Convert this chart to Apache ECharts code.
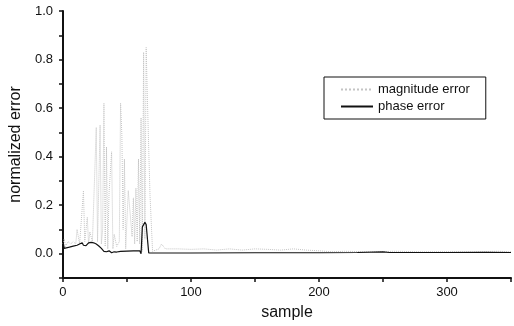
<!DOCTYPE html>
<html>
<head>
<meta charset="utf-8">
<script src="https://cdn.jsdelivr.net/npm/echarts@6/dist/echarts.min.js"></script>
<style>
  html, body { margin: 0; padding: 0; background: #fff; }
  #chart { width: 514px; height: 326px; }
</style>
</head>
<body>
<div id="chart"></div>
<script>
// magnitude error (dotted, light) - sample index and value
const magX = [0, 1, 2, 4, 6, 8, 10, 11, 13, 16, 17, 19, 20, 21, 23, 26, 27, 29, 30, 31, 32, 33, 34, 35, 36, 38, 39, 40, 42, 44, 45, 46, 47, 48, 49, 51, 54, 55, 56, 57, 58, 59, 60, 61, 62, 63, 64, 65, 66, 67, 68, 70, 75, 77, 80, 90, 100, 110, 120, 130, 140, 150, 160, 170, 180, 190, 200, 210, 220, 240, 260, 280, 300, 320, 340, 350];
const magY = [0.04, 0.06, 0.03, 0.05, 0.04, 0.05, 0.04, 0.10, 0.04, 0.26, 0.05, 0.15, 0.04, 0.09, 0.05, 0.52, 0.05, 0.53, 0.04, 0.10, 0.62, 0.03, 0.44, 0.02, 0.25, 0.42, 0.02, 0.08, 0.03, 0.05, 0.62, 0.49, 0.10, 0.39, 0.02, 0.26, 0.07, 0.23, 0.04, 0.27, 0.05, 0.39, 0.04, 0.56, 0.01, 0.83, 0.06, 0.85, 0.63, 0.43, 0.24, 0.01, 0.02, 0.04, 0.02, 0.02, 0.018, 0.02, 0.015, 0.02, 0.015, 0.02, 0.018, 0.015, 0.02, 0.015, 0.012, 0.008, 0.01, 0.008, 0.01, 0.008, 0.009, 0.008, 0.01, 0.008];

// phase error (solid)
const phaseX = [0, 1, 2, 5, 8, 11, 13, 14, 15, 16, 17, 18, 19, 20, 22, 24, 26, 28, 30, 32, 34, 36, 37, 38, 39, 40, 42, 45, 50, 55, 60, 61, 62, 63, 64, 65, 66, 67, 68, 70, 80, 100, 150, 200, 230, 250, 255, 260, 300, 330, 350];
const phaseY = [0.05, 0.022, 0.022, 0.027, 0.031, 0.035, 0.04, 0.036, 0.045, 0.035, 0.042, 0.033, 0.04, 0.045, 0.047, 0.045, 0.04, 0.032, 0.022, 0.01, 0.008, 0.012, 0.02, 0.004, 0.003, 0.008, 0.007, 0.01, 0.011, 0.012, 0.012, 0.0, 0.11, 0.12, 0.13, 0.12, 0.06, 0.003, 0.004, 0.003, 0.003, 0.003, 0.004, 0.004, 0.005, 0.008, 0.005, 0.005, 0.005, 0.006, 0.005];

const xLabels = [0, 100, 200, 300];
const yLabels = [0, 0.2, 0.4, 0.6, 0.8, 1.0];

const zip = (xs, ys) => xs.map((x, i) => [x, ys[i]]);

const chart = echarts.init(document.getElementById("chart"), null, { renderer: "canvas" });

const font = "'Liberation Sans', Arial, sans-serif";

const option = {
  animation: false,
  backgroundColor: "#fff",
  grid: { left: 59, right: 0, top: 11, bottom: 46 },
  legend: {
    orient: "vertical",
    left: 324,
    top: 77,
    padding: [6, 16, 6, 16],
    itemGap: 4,
    itemWidth: 32,
    itemHeight: 12,
    borderColor: "#111",
    borderWidth: 1,
    itemStyle: { color: "transparent", borderWidth: 0 },
    textStyle: { fontFamily: font, fontSize: 13, color: "#111" },
    data: ["magnitude error", "phase error"],
  },
  xAxis: {
    type: "value",
    min: 0,
    max: 350,
    interval: 50,
    name: "sample",
    nameLocation: "middle",
    nameGap: 27,
    nameTextStyle: { fontFamily: font, fontSize: 16, color: "#111" },
    axisLine: { onZero: false, lineStyle: { color: "#111", width: 2 } },
    axisTick: { length: 4, lineStyle: { color: "#111", width: 1.5 } },
    axisLabel: {
      fontFamily: font,
      fontSize: 13,
      color: "#111",
      margin: 8,
      formatter: (v) => (xLabels.includes(v) ? String(v) : ""),
    },
    splitLine: { show: false },
  },
  yAxis: {
    type: "value",
    min: -0.1,
    max: 1.0,
    interval: 0.1,
    name: "normalized error",
    nameLocation: "middle",
    nameGap: 38,
    nameTextStyle: { fontFamily: font, fontSize: 16, color: "#111" },
    axisLine: { show: true, lineStyle: { color: "#111", width: 2 } },
    axisTick: { length: 4, lineStyle: { color: "#111", width: 1.5 } },
    axisLabel: {
      fontFamily: font,
      fontSize: 13,
      color: "#111",
      margin: 10,
      formatter: (v) => {
        const hit = yLabels.find((l) => Math.abs(l - v) < 1e-6);
        return hit !== undefined ? hit.toFixed(1) : "";
      },
    },
    splitLine: { show: false },
  },
  series: [
    {
      name: "magnitude error",
      type: "line",
      symbol: "none",
      data: zip(magX, magY),
      lineStyle: { color: "#c4c4c4", width: 1, type: "dotted" },
      itemStyle: { color: "#c4c4c4" },
      z: 2,
    },
    {
      name: "phase error",
      type: "line",
      symbol: "none",
      data: zip(phaseX, phaseY),
      lineStyle: { color: "#111", width: 1.2 },
      itemStyle: { color: "#111" },
      z: 3,
    },
  ],
};

chart.setOption(option);
</script>
</body>
</html>
